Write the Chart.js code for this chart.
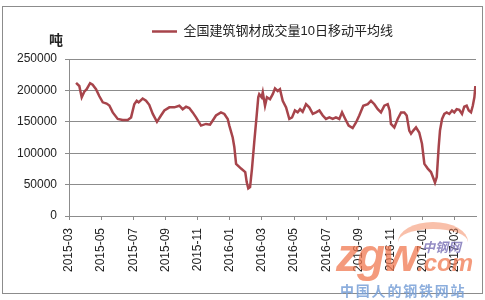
<!DOCTYPE html>
<html>
<head>
<meta charset="utf-8">
<script src="https://cdn.jsdelivr.net/npm/chart.js@4"></script>
<style>
body { margin: 0; background: #fff; }
#wrap { position: relative; width: 485px; height: 300px; }
#frame { position: absolute; left: 2px; top: 6px; width: 481px; height: 288px; border: 1px solid #8c8c8c; box-sizing: border-box; pointer-events: none; }
.wm { position: absolute; pointer-events: none; white-space: nowrap; }
#wmArc { left: 398px; top: 222px; width: 70px; height: 40px; border-radius: 50% 50% 0 0; border-top: 7px solid rgba(244,140,100,0.55); box-sizing: border-box; }
#wmZgw { left: 336px; top: 228px; font: italic bold 46px "Liberation Sans", sans-serif; color: rgba(240,120,80,0.75); letter-spacing: -2px; }
#wmCom { left: 417px; top: 249px; font: italic bold 24px "Liberation Sans", sans-serif; color: rgba(240,120,80,0.75); }
#wmCn { left: 422px; top: 237px; font: bold italic 13px "Noto Sans CJK SC", sans-serif; color: rgba(120,110,180,0.8); }
#wmSlogan { left: 340px; top: 280px; font: bold 14px "Noto Sans CJK SC", sans-serif; color: rgba(120,160,215,0.85); letter-spacing: 1.8px; }
</style>
</head>
<body>
<div id="wrap">
  <canvas id="volChart" width="485" height="300"></canvas>
  <div id="frame"></div>
  <div class="wm" id="wmArc"></div>
  <div class="wm" id="wmZgw">zgw</div>
  <div class="wm" id="wmCom">.com</div>
  <div class="wm" id="wmCn">中钢网</div>
  <div class="wm" id="wmSlogan">中国人的钢铁网站</div>
</div>
<script>
// 月份偏移 (从 2015-03 起算)
const monthOffset = [0.44,0.64,0.79,0.95,1.10,1.31,1.47,1.68,1.88,2.10,
  2.34,2.51,2.72,3.03,3.34,3.65,3.86,4.06,4.21,4.33,
  4.58,4.79,4.99,5.21,5.47,5.72,5.93,6.24,6.55,6.86,
  7.07,7.28,7.48,7.69,7.90,8.21,8.52,8.77,8.94,9.14,
  9.45,9.66,9.87,9.97,10.18,10.28,10.39,10.70,10.96,11.05,
  11.15,11.26,11.38,11.52,11.67,11.77,11.83,11.98,12.05,12.19,
  12.31,12.50,12.67,12.81,12.98,13.12,13.29,13.50,13.70,13.87,
  14.05,14.22,14.37,14.53,14.74,14.94,15.16,15.36,15.57,15.78,
  15.98,16.19,16.40,16.60,16.81,16.98,17.18,17.39,17.64,17.85,
  18.05,18.30,18.58,18.78,18.99,19.20,19.40,19.61,19.82,19.94,
  20.02,20.23,20.44,20.65,20.85,21.00,21.16,21.27,21.41,21.58,
  21.78,21.95,22.10,22.31,22.51,22.66,22.76,22.87,22.99,23.07,
  23.20,23.34,23.49,23.65,23.82,23.96,24.11,24.27,24.44,24.58,
  24.73,24.86,25.00,25.11,25.21,25.27];

// 成交量 10日移动平均 (吨)
const volume = [212000,207000,189000,198000,202000,211500,209000,202000,191000,181000,
  179000,176000,165000,154500,153000,153000,157000,178000,183500,181000,
  187000,183500,177000,162500,150000,160000,168000,173000,173000,175600,
  170000,174000,172000,165000,157000,144000,146600,145500,152000,160000,
  165000,162500,154500,144000,125000,110000,83000,75500,70000,54000,
  44000,46000,75500,117500,160000,189000,194000,189000,197000,175600,
  189000,186000,194000,203000,199000,202000,183500,173000,154500,157000,
  168000,165000,170000,166000,178000,173000,162500,165000,168000,160000,
  154500,157000,154500,157000,154500,165000,154500,144000,140000,149000,
  160000,175600,178000,183500,178000,170000,165000,175600,178000,168000,
  146600,141000,154500,165000,165000,160000,136000,131000,136000,141000,
  133000,115000,83000,75500,70000,60000,53000,62000,110000,136000,
  154500,162500,165000,162500,168000,165000,170000,169000,162500,174000,
  175600,168000,165000,175600,189000,207000];

const tickLabels = ['2015-03','2015-05','2015-07','2015-09','2015-11','2016-01',
  '2016-03','2016-05','2016-07','2016-09','2016-11','2017-01','2017-03'];

const seriesName = '全国建筑钢材成交量10日移动平均线';
const unitLabel = '吨';
const fontFamily = '"Liberation Sans", "Noto Sans CJK SC", sans-serif';

// 图例下方留出"吨"的位置
const legendGap = {
    id: 'legendGap',
    beforeInit(chart) {
        const fit = chart.legend.fit;
        chart.legend.fit = function () {
            fit.bind(chart.legend)();
            this.height += 11;
        };
    }
};

const unitPlugin = {
    id: 'unitLabel',
    afterDraw(chart) {
        const ctx = chart.ctx;
        const area = chart.chartArea;
        ctx.save();
        ctx.font = 'bold 14px "Noto Sans CJK SC", sans-serif';
        ctx.fillStyle = '#222';
        ctx.textAlign = 'center';
        ctx.textBaseline = 'middle';
        ctx.fillText(unitLabel, area.left - 13, area.top - 19);
        ctx.restore();
    }
};

const ctx = document.getElementById('volChart').getContext('2d');

const chart = new Chart(ctx, {
    type: 'line',
    data: {
        datasets: [{
            label: seriesName,
            data: monthOffset.map((m, i) => ({ x: m, y: volume[i] })),
            borderColor: '#a7444b',
            borderWidth: 2.5,
            pointRadius: 0,
            tension: 0,
            fill: false
        }]
    },
    options: {
        responsive: false,
        animation: false,
        layout: { padding: { left: 17, right: 9, top: 16, bottom: 0 } },
        plugins: {
            tooltip: { enabled: false },
            legend: {
                position: 'top',
                fullSize: false,
                labels: {
                    usePointStyle: true,
                    pointStyle: 'line',
                    pointStyleWidth: 25,
                    padding: 9,
                    color: '#222',
                    font: { size: 13, family: fontFamily }
                }
            }
        },
        scales: {
            x: {
                type: 'linear',
                min: 0,
                max: 25.31,
                afterFit: s => { s.height = 84; },
                border: { color: '#8c8c8c' },
                grid: { drawOnChartArea: false, drawTicks: true, tickLength: 4, color: '#8c8c8c' },
                ticks: {
                    stepSize: 2,
                    includeBounds: false,
                    autoSkip: false,
                    minRotation: 90,
                    maxRotation: 90,
                    padding: 8,
                    color: '#222',
                    font: { size: 12, family: fontFamily },
                    callback: v => (v % 2 === 0 ? tickLabels[v / 2] : null)
                }
            },
            y: {
                min: 0,
                max: 250000,
                afterFit: s => { s.width = 52; },
                border: { color: '#8c8c8c' },
                grid: { color: '#8c8c8c', tickLength: 4 },
                ticks: {
                    stepSize: 50000,
                    padding: 8,
                    color: '#222',
                    font: { size: 12, family: fontFamily },
                    callback: v => String(v)
                }
            }
        }
    },
    plugins: [legendGap, unitPlugin]
});
</script>
</body>
</html>
